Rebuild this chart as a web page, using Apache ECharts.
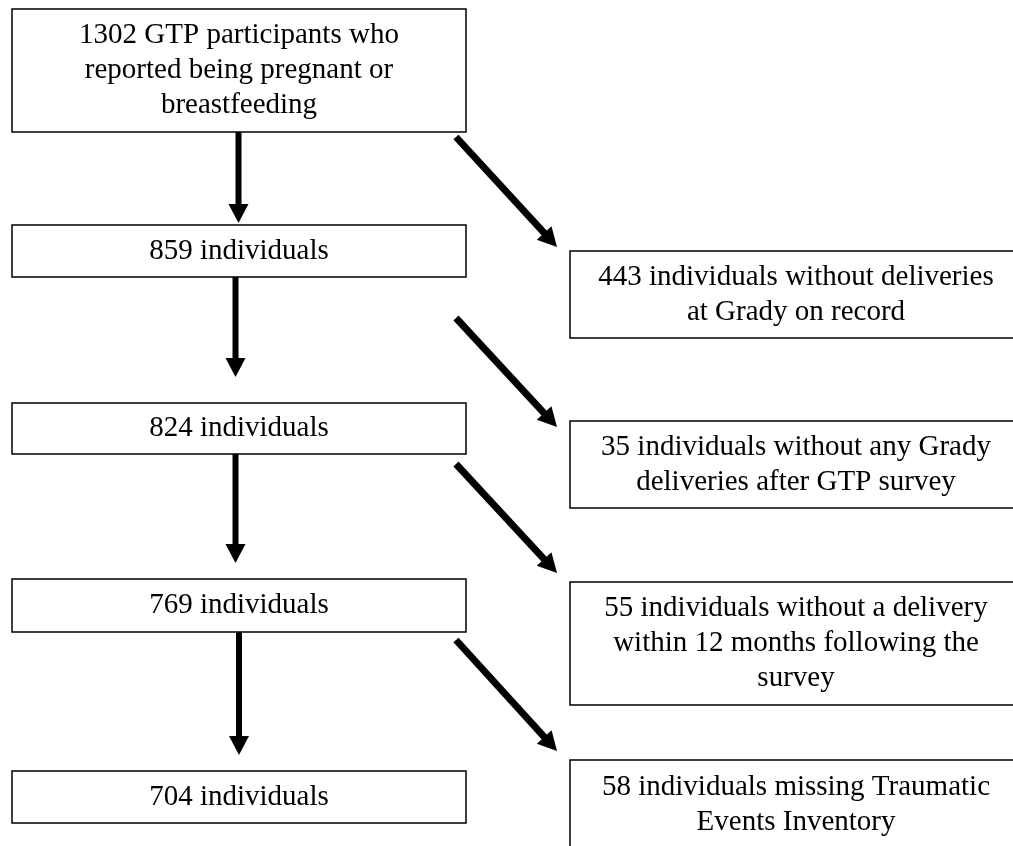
<!DOCTYPE html>
<html>
<head>
<meta charset="utf-8">
<script src="https://cdn.jsdelivr.net/npm/echarts@6/dist/echarts.min.js"></script>
<style>
html,body{margin:0;padding:0;background:#fff;}
#chart{width:1013px;height:846px;}
</style>
</head>
<body>
<div id="chart"></div>
<script>
// ---- data ----
const mainCounts = [1302, 859, 824, 769, 704];
const mainDescriptions = [
  'GTP participants who\nreported being pregnant or\nbreastfeeding',
  'individuals',
  'individuals',
  'individuals',
  'individuals'
];
const excludedCounts = [443, 35, 55, 58];
const excludedDescriptions = [
  'individuals without deliveries\nat Grady on record',
  'individuals without any Grady\ndeliveries after GTP survey',
  'individuals without a delivery\nwithin 12 months following the\nsurvey',
  'individuals missing Traumatic\nEvents Inventory'
];

// ---- layout (page coordinates mapped through hidden axes) ----
const mainBoxes = [
  {x0: 12, x1: 466, y0: 9, y1: 132},
  {x0: 12, x1: 466, y0: 225, y1: 277},
  {x0: 12, x1: 466, y0: 403, y1: 454},
  {x0: 12, x1: 466, y0: 579, y1: 632},
  {x0: 12, x1: 466, y0: 771, y1: 823}
];
const sideBoxes = [
  {x0: 570, x1: 1022, y0: 251, y1: 338},
  {x0: 570, x1: 1022, y0: 421, y1: 508},
  {x0: 570, x1: 1022, y0: 582, y1: 705},
  {x0: 570, x1: 1022, y0: 760, y1: 850}
];
const downArrows = [
  {x0: 238.5, y0: 132, x1: 238.5, y1: 223},
  {x0: 235.5, y0: 277, x1: 235.5, y1: 377},
  {x0: 235.5, y0: 454, x1: 235.5, y1: 563},
  {x0: 239, y0: 632, x1: 239, y1: 755}
];
const sideArrows = [
  {x0: 456, y0: 137, x1: 557, y1: 247},
  {x0: 456, y0: 318, x1: 557, y1: 427},
  {x0: 456, y0: 464, x1: 557, y1: 573},
  {x0: 456, y0: 640, x1: 557, y1: 751}
];

const FONT = '29px "Liberation Serif", "Times New Roman", serif';

const boxItems = [];
mainCounts.forEach((c, i) => boxItems.push({text: c + ' ' + mainDescriptions[i], box: mainBoxes[i]}));
excludedCounts.forEach((c, i) => boxItems.push({text: c + ' ' + excludedDescriptions[i], box: sideBoxes[i]}));

const arrowItems = [];
downArrows.forEach(a => arrowItems.push({a: a, w: 6}));
sideArrows.forEach(a => arrowItems.push({a: a, w: 7}));

const chart = echarts.init(document.getElementById('chart'), null, {renderer: 'canvas'});

chart.setOption({
  backgroundColor: '#ffffff',
  animation: false,
  grid: {left: 0, right: 0, top: 0, bottom: 0},
  xAxis: {type: 'value', min: 0, max: 1013, show: false},
  yAxis: {type: 'value', min: 0, max: 846, inverse: true, show: false},
  series: [
    {
      type: 'custom',
      coordinateSystem: 'cartesian2d',
      clip: false,
      silent: true,
      data: boxItems.map((b, i) => [i, 0]),
      renderItem: function (params, api) {
        const it = boxItems[params.dataIndex];
        const p0 = api.coord([it.box.x0, it.box.y0]);
        const p1 = api.coord([it.box.x1, it.box.y1]);
        return {
          type: 'group',
          children: [
            {
              type: 'rect',
              shape: {x: p0[0], y: p0[1], width: p1[0] - p0[0], height: p1[1] - p0[1]},
              style: {fill: '#ffffff', stroke: '#000000', lineWidth: 1.5}
            },
            {
              type: 'text',
              style: {
                text: it.text,
                x: (p0[0] + p1[0]) / 2,
                y: (p0[1] + p1[1]) / 2,
                align: 'center',
                verticalAlign: 'middle',
                font: FONT,
                lineHeight: 35,
                fill: '#000000'
              }
            }
          ]
        };
      }
    },
    {
      type: 'custom',
      coordinateSystem: 'cartesian2d',
      clip: false,
      silent: true,
      data: arrowItems.map((a, i) => [i, 0]),
      renderItem: function (params, api) {
        const it = arrowItems[params.dataIndex];
        const p0 = api.coord([it.a.x0, it.a.y0]);
        const p1 = api.coord([it.a.x1, it.a.y1]);
        const dx = p1[0] - p0[0], dy = p1[1] - p0[1];
        const len = Math.sqrt(dx * dx + dy * dy);
        const ux = dx / len, uy = dy / len;
        const px = -uy, py = ux;
        const L = 19, W = 10;
        const bx = p1[0] - ux * L, by = p1[1] - uy * L;
        return {
          type: 'group',
          children: [
            {
              type: 'line',
              shape: {x1: p0[0], y1: p0[1], x2: bx + ux * 2, y2: by + uy * 2},
              style: {stroke: '#000000', lineWidth: it.w, lineCap: 'butt'}
            },
            {
              type: 'polygon',
              shape: {points: [[p1[0], p1[1]], [bx + px * W, by + py * W], [bx - px * W, by - py * W]]},
              style: {fill: '#000000'}
            }
          ]
        };
      }
    }
  ]
});
</script>
</body>
</html>
